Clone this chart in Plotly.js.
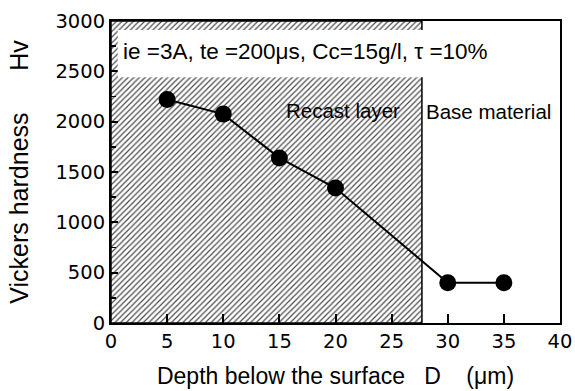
<!DOCTYPE html>
<html>
<head>
<meta charset="utf-8">
<script src="https://cdn.plot.ly/plotly-3.0.1.min.js"></script>
<style>html,body{margin:0;padding:0;background:#fff;}#chart{width:575px;height:391px;}</style>
</head>
<body>
<div id="chart"></div>
<script>
// Data
const depth = [5, 10, 15, 20, 30, 35];
const hardness = [2220, 2075, 1640, 1340, 400, 400];
// Recast layer region (depth range and hardness range of the hatched zone)
const recastX = [0, 27.7, 27.7, 0, 0];
const recastY = [0, 0, 3000, 3000, 0];
// Condition text box extent
const boxX = [0.6, 39.8];
const boxY = [2440, 2910];
const conditionText = "ie =3A, te =200\u03bcs, Cc=15g/l, \u03c4 =10%";
const labels = [{text: "Recast layer", x: 20.7, y: 2110}, {text: "Base material", x: 33.6, y: 2105}];
const xTicks = [0, 5, 10, 15, 20, 25, 30, 35, 40];
const yTicks = [0, 500, 1000, 1500, 2000, 2500, 3000];

const NUMFONT = "DejaVu Sans, Liberation Sans, Arial, sans-serif";
const TXTFONT = "Liberation Sans, Arial, Helvetica, sans-serif";

const traces = [
  {
    x: recastX, y: recastY, type: 'scatter', mode: 'lines', fill: 'toself',
    fillcolor: 'white',
    fillpattern: {shape: '/', fgcolor: '#4a4a4a', bgcolor: 'white', size: 4, solidity: 0.3},
    line: {color: 'black', width: 1.5}, hoverinfo: 'skip', showlegend: false
  },
  {
    x: depth, y: hardness, type: 'scatter', mode: 'lines+markers',
    line: {color: 'black', width: 2},
    marker: {color: 'black', size: 17, symbol: 'circle'},
    showlegend: false
  }
];

const layout = {
  width: 575, height: 391,
  margin: {l: 111, r: 15, t: 21, b: 68},
  paper_bgcolor: 'white', plot_bgcolor: 'white',
  font: {family: TXTFONT, color: 'black', size: 17},
  xaxis: {
    range: [0, 40], tickvals: xTicks, ticktext: xTicks.map(String),
    ticks: 'inside', ticklen: 9, tickwidth: 2, tickcolor: 'black',
    showline: true, linecolor: 'black', linewidth: 2, mirror: true,
    showgrid: false, zeroline: false,
    tickfont: {family: NUMFONT, size: 19.5},
    title: {text: "Depth below the surface   D    (\u03bcm)", font: {family: TXTFONT, size: 23}, standoff: 15}
  },
  yaxis: {
    range: [0, 3000], tickvals: yTicks, ticktext: yTicks.map(String),
    ticks: 'inside', ticklen: 7, tickwidth: 2, tickcolor: 'black',
    minor: {dtick: 250, ticks: 'inside', ticklen: 5, tickwidth: 1.5, tickcolor: 'black'},
    showline: true, linecolor: 'black', linewidth: 2, mirror: true,
    showgrid: false, zeroline: false,
    tickfont: {family: NUMFONT, size: 19.5},
    title: {text: "Vickers hardness      Hv", font: {family: TXTFONT, size: 25}, standoff: 20}
  },
  shapes: [
    {type: 'rect', xref: 'x', yref: 'y', x0: boxX[0], x1: boxX[1], y0: boxY[0], y1: boxY[1],
     fillcolor: 'white', line: {width: 0}, layer: 'above'}
  ],
  annotations: [
    {xref: 'x', yref: 'y', x: boxX[0] + 0.3, y: 2700, xanchor: 'left', yanchor: 'middle',
     text: conditionText, showarrow: false, font: {family: TXTFONT, size: 22.5}}
  ].concat(labels.map(l => ({xref: 'x', yref: 'y', x: l.x, y: l.y, text: l.text, showarrow: false,
     xanchor: 'center', yanchor: 'middle', font: {family: TXTFONT, size: 20.5}})))
};

Plotly.newPlot('chart', traces, layout, {staticPlot: true, displayModeBar: false});
</script>
</body>
</html>
